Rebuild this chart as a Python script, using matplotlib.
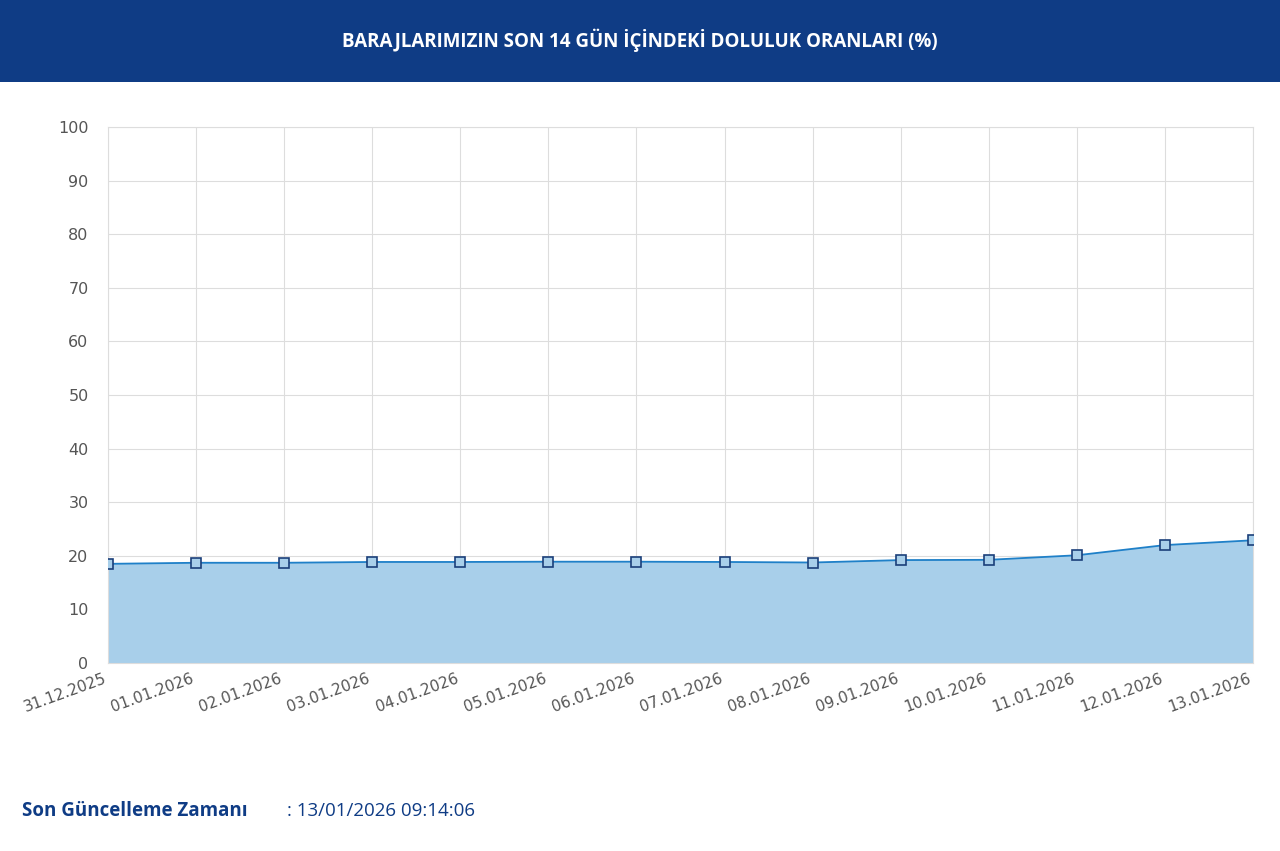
import numpy as np
import matplotlib
matplotlib.use('Agg')
import matplotlib.pyplot as plt

# Veriler
dates = ["31.12.2025", "01.01.2026", "02.01.2026", "03.01.2026", "04.01.2026",
         "05.01.2026", "06.01.2026", "07.01.2026", "08.01.2026", "09.01.2026",
         "10.01.2026", "11.01.2026", "12.01.2026", "13.01.2026"]
fill_rates = [18.5, 18.7, 18.7, 18.85, 18.85, 18.9, 18.9, 18.85, 18.75,
              19.2, 19.25, 20.1, 22.0, 22.9]
y_ticks = list(range(0, 101, 10))

fig = plt.figure(figsize=(12.8, 8.51), dpi=100)
fig.patch.set_facecolor('white')

# Başlık bandı
fig.patches.append(plt.Rectangle((0, 1 - 82 / 851), 1, 82 / 851, transform=fig.transFigure,
                                 facecolor='#0f3c85', edgecolor='none', zorder=0))
fig.text(0.5, 1 - 40 / 851, "BARAJLARIMIZIN SON 14 GÜN İÇİNDEKİ DOLULUK ORANLARI (%)",
         color='white', fontsize=13.5, fontweight='bold', ha='center', va='center',
         family='Open Sans')

ax = fig.add_axes([108 / 1280, 1 - 663 / 851, (1253 - 108) / 1280, (663 - 127) / 851])
x = np.arange(len(dates))
ax.fill_between(x, fill_rates, 0, color='#a8cfea', zorder=1)
ax.plot(x, fill_rates, color='#1f80c8', lw=1.3, zorder=2)
ax.plot(x, fill_rates, 's', ms=7, mfc='#a8cfea', mec='#1b3f7a', mew=1.2, zorder=3)

ax.set_xlim(0, len(dates) - 1)
ax.set_ylim(0, 100)
ax.set_yticks(y_ticks)
ax.set_xticks(x)
ax.set_xticklabels(dates, rotation=20, ha='right', fontsize=11, color='#555555')
ax.tick_params(axis='y', labelsize=11.5, colors='#555555', length=0, pad=14)
ax.tick_params(axis='x', length=0, pad=6)
ax.grid(True, color='#dddddd', lw=0.8)
ax.set_axisbelow(True)
for s in ax.spines.values():
    s.set_color('#dddddd')

fig.text(22 / 1280, 1 - 811 / 851, "Son Güncelleme Zamanı", color='#0f3c85', fontsize=13.5,
         fontweight='bold', va='center', family='Open Sans')
fig.text(287 / 1280, 1 - 811 / 851, ": 13/01/2026 09:14:06", color='#0f3c85', fontsize=13.5,
         va='center', family='Open Sans')

fig.savefig('out.png', dpi=100)
